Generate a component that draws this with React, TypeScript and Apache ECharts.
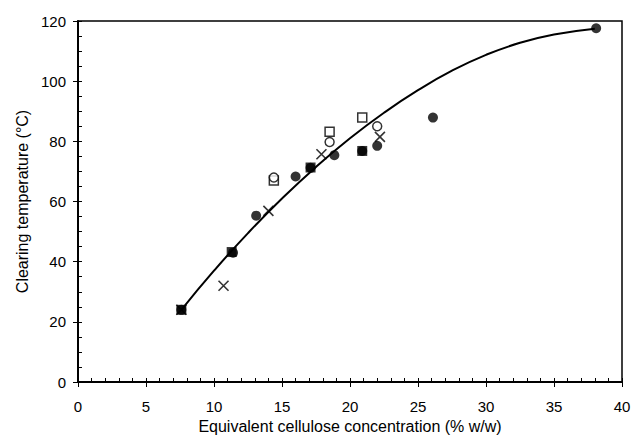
import React, { useEffect, useRef } from "react";
import * as echarts from "echarts";

const xTicks = [0, 5, 10, 15, 20, 25, 30, 35, 40];
const yTicks = [0, 20, 40, 60, 80, 100, 120];

const filledCircles: [number, number][] = [
  [7.6, 24], [11.4, 43], [13.1, 55.3], [16.0, 68.3], [17.1, 71.2],
  [18.85, 75.4], [20.9, 76.8], [22.0, 78.5], [26.1, 87.9], [38.1, 117.6],
];
const filledSquares: [number, number][] = [
  [7.6, 24], [11.3, 43.2], [17.1, 71.3], [20.9, 76.8],
];
const crosses: [number, number][] = [
  [7.6, 24], [10.7, 32], [14.0, 56.9], [17.9, 75.7], [22.2, 81.5],
];
const openCircles: [number, number][] = [
  [14.4, 68.0], [18.5, 79.8], [22.0, 85.0],
];
const openSquares: [number, number][] = [
  [14.4, 67.0], [18.5, 83.2], [20.9, 87.9],
];
const trendLine: [number, number][] = [
  [7.6, 24], [10, 37], [12.5, 49.5], [15, 61], [17.5, 71.5], [20, 81],
  [22.5, 89.5], [25, 97], [27.5, 103.5], [30, 108.75], [32.5, 112.75],
  [35, 115.5], [38, 117.45],
];

const FONT = "Liberation Sans, Arial, sans-serif";

export default function App() {
  const ref = useRef<HTMLDivElement>(null);
  useEffect(() => {
    if (!ref.current) return;
    const chart = echarts.init(ref.current, null, { renderer: "svg" });
    const xMin = xTicks[0], xMax = xTicks[xTicks.length - 1];
    const yMin = yTicks[0], yMax = yTicks[yTicks.length - 1];
    const xInt = xTicks[1] - xTicks[0];
    const yInt = yTicks[1] - yTicks[0];
    chart.setOption({
      animation: false,
      grid: {
        left: 78, right: 12, top: 21, bottom: 62,
        show: true, borderColor: "#000", borderWidth: 1.5, backgroundColor: "transparent",
      },
      xAxis: [
        {
          type: "value", min: xMin, max: xMax, interval: xInt,
          name: "Equivalent cellulose concentration (% w/w)",
          nameLocation: "middle", nameGap: 36,
          nameTextStyle: { fontFamily: FONT, fontSize: 16, color: "#000" },
          axisLine: { show: true, lineStyle: { color: "#000", width: 2 } },
          axisTick: { show: true, inside: false, length: 5, lineStyle: { color: "#000" } },
          axisLabel: { fontFamily: FONT, fontSize: 15, color: "#000", margin: 17 },
          splitLine: { show: false },
        },
        {
          type: "value", min: xMin, max: xMax, interval: 1, position: "bottom",
          axisLine: { show: false },
          axisTick: { show: true, inside: true, length: 4, lineStyle: { color: "#000" } },
          axisLabel: { show: false },
          splitLine: { show: false },
        },
      ],
      yAxis: [
        {
          type: "value", min: yMin, max: yMax, interval: yInt,
          name: "Clearing temperature (°C)",
          nameLocation: "middle", nameGap: 47,
          nameTextStyle: { fontFamily: FONT, fontSize: 16, color: "#000" },
          axisLine: { show: true, lineStyle: { color: "#000", width: 2 } },
          axisTick: { show: true, inside: false, length: 5, lineStyle: { color: "#000" } },
          axisLabel: { fontFamily: FONT, fontSize: 15, color: "#000", margin: 12 },
          splitLine: { show: false },
        },
        {
          type: "value", min: yMin, max: yMax, interval: 5, position: "left",
          axisLine: { show: false },
          axisTick: { show: true, inside: true, length: 4, lineStyle: { color: "#000" } },
          axisLabel: { show: false },
          splitLine: { show: false },
        },
      ],
      series: [
        {
          type: "line", data: trendLine, smooth: true, showSymbol: false,
          lineStyle: { color: "#000", width: 2 }, z: 2,
        },
        {
          type: "scatter", data: filledSquares, symbol: "rect", symbolSize: 10,
          itemStyle: { color: "#000" }, z: 3,
        },
        {
          type: "scatter", data: filledCircles, symbol: "circle", symbolSize: 10,
          itemStyle: { color: "#000" }, z: 3,
        },
        {
          type: "scatter", data: openSquares, symbol: "rect", symbolSize: 9,
          itemStyle: { color: "#fff", borderColor: "#000", borderWidth: 1.5 }, z: 4,
        },
        {
          type: "scatter", data: openCircles, symbol: "circle", symbolSize: 9,
          itemStyle: { color: "#fff", borderColor: "#000", borderWidth: 1.5 }, z: 4,
        },
        {
          type: "scatter", data: crosses, symbol: "path://M0,0L10,10M10,0L0,10", symbolSize: 10,
          itemStyle: { color: "none", borderColor: "#000", borderWidth: 1.6 }, z: 5,
        },
      ],
    });
    return () => chart.dispose();
  }, []);
  return <div ref={ref} style={{ width: 634, height: 444, position: "absolute", left: 0, top: 0 }} />;
}
